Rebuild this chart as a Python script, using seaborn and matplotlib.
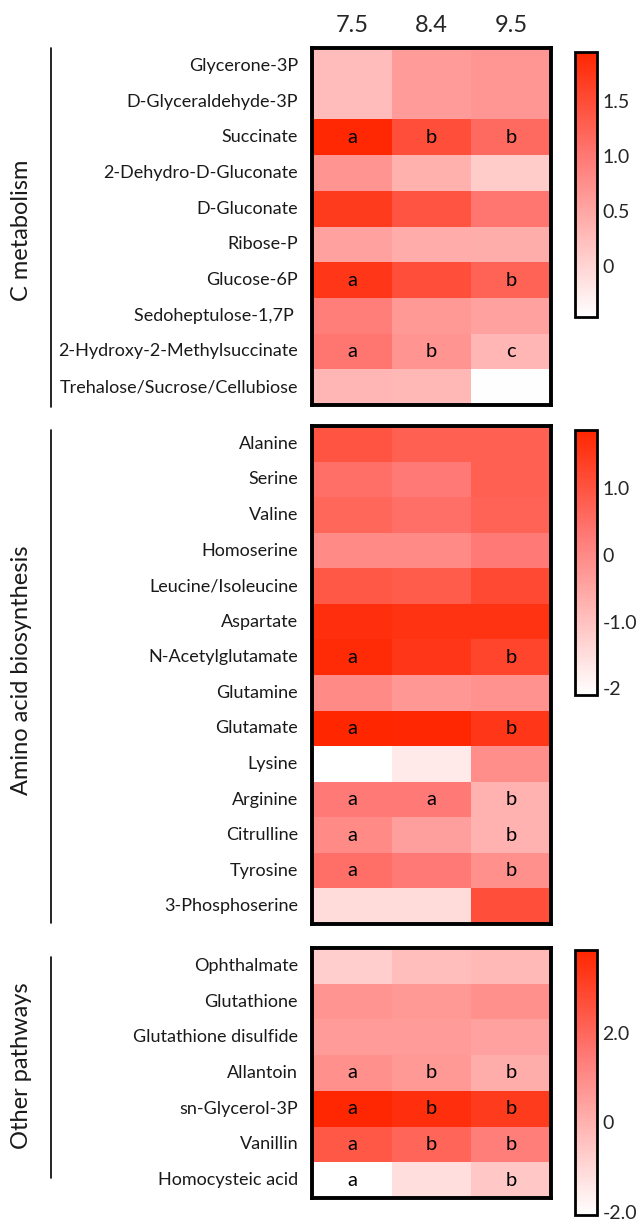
import numpy as np
import pandas as pd
import matplotlib
matplotlib.use("Agg")
import matplotlib.pyplot as plt
from matplotlib.colors import LinearSegmentedColormap
from matplotlib.lines import Line2D
import seaborn as sns

sns.set_theme(style="white")
plt.rcParams["font.family"] = ["Lato", "DejaVu Sans"]

# pH conditions (columns)
ph_levels = ["7.5", "8.4", "9.5"]

# --- C metabolism ---
c_metab_names = [
    "Glycerone-3P", "D-Glyceraldehyde-3P", "Succinate", "2-Dehydro-D-Gluconate",
    "D-Gluconate", "Ribose-P", "Glucose-6P", "Sedoheptulose-1,7P ",
    "2-Hydroxy-2-Methylsuccinate", "Trehalose/Sucrose/Cellubiose",
]
c_metab_values = [
    [0.27, 0.63, 0.68],
    [0.27, 0.63, 0.68],
    [1.93, 1.47, 1.16],
    [0.70, 0.39, 0.10],
    [1.70, 1.42, 1.04],
    [0.55, 0.44, 0.43],
    [1.75, 1.47, 1.25],
    [0.94, 0.65, 0.55],
    [1.04, 0.70, 0.34],
    [0.34, 0.32, -0.45],
]
c_metab_letters = [
    ["", "", ""], ["", "", ""], ["a", "b", "b"], ["", "", ""], ["", "", ""],
    ["", "", ""], ["a", "", "b"], ["", "", ""], ["a", "b", "c"], ["", "", ""],
]

# --- Amino acid biosynthesis ---
amino_names = [
    "Alanine", "Serine", "Valine", "Homoserine", "Leucine/Isoleucine", "Aspartate",
    "N-Acetylglutamate", "Glutamine", "Glutamate", "Lysine", "Arginine",
    "Citrulline", "Tyrosine", "3-Phosphoserine",
]
amino_values = [
    [1.00, 0.76, 0.76],
    [0.48, 0.28, 0.76],
    [0.64, 0.48, 0.72],
    [0.00, 0.00, 0.28],
    [0.92, 0.84, 1.20],
    [1.71, 1.63, 1.63],
    [1.79, 1.55, 1.27],
    [0.00, -0.23, -0.15],
    [1.86, 1.84, 1.55],
    [-2.10, -1.70, -0.07],
    [0.28, 0.28, -0.71],
    [0.00, -0.39, -0.71],
    [0.48, 0.28, -0.10],
    [-1.46, -1.46, 1.08],
]
amino_letters = [
    ["", "", ""], ["", "", ""], ["", "", ""], ["", "", ""], ["", "", ""],
    ["", "", ""], ["a", "", "b"], ["", "", ""], ["a", "", "b"], ["", "", ""],
    ["a", "a", "b"], ["a", "", "b"], ["a", "", "b"], ["", "", ""],
]

# --- Other pathways ---
other_names = [
    "Ophthalmate", "Glutathione", "Glutathione disulfide", "Allantoin",
    "sn-Glycerol-3P", "Vanillin", "Homocysteic acid",
]
other_values = [
    [-0.77, -0.30, -0.18],
    [0.77, 0.65, 0.89],
    [0.59, 0.59, 0.41],
    [0.89, 0.65, 0.12],
    [3.80, 3.60, 3.25],
    [2.42, 2.07, 1.36],
    [-2.07, -1.18, -0.60],
]
other_letters = [
    ["", "", ""], ["", "", ""], ["", "", ""], ["a", "b", "b"],
    ["a", "b", "b"], ["a", "b", "b"], ["a", "", "b"],
]

group_titles = ["C metabolism", "Amino acid biosynthesis", "Other pathways"]

# white -> pink -> saturated red
cmap = LinearSegmentedColormap.from_list(
    "white_red", [(0.0, "#FFFFFF"), (0.6, "#FF7A76"), (1.0, "#FF2600")])

W, H = 639, 1225
fig = plt.figure(figsize=(W / 100, H / 100), dpi=100)


def box(x0, y0, x1, y1):
    """Pixel box (top-left origin) -> figure-fraction rect."""
    return [x0 / W, 1 - y1 / H, (x1 - x0) / W, (y1 - y0) / H]


panels = [
    dict(names=c_metab_names, values=c_metab_values, letters=c_metab_letters,
         hm=(312, 48, 551, 405), cb=(575, 52, 597, 317), vmin=-0.46, vmax=1.95,
         ticks=[0, 0.5, 1.0, 1.5], ticklabels=["0", "0.5", "1.0", "1.5"],
         line=(48, 407), label_y=230),
    dict(names=amino_names, values=amino_values, letters=amino_letters,
         hm=(312, 426, 551, 924), cb=(575, 430, 597, 695), vmin=-2.1, vmax=1.87,
         ticks=[-2, -1, 0, 1], ticklabels=["-2", "-1.0", "0", "1.0"],
         line=(430, 923), label_y=670),
    dict(names=other_names, values=other_values, letters=other_letters,
         hm=(312, 948, 551, 1198), cb=(575, 950, 597, 1215), vmin=-2.07, vmax=3.84,
         ticks=[-2, 0, 2], ticklabels=["-2.0", "0", "2.0"],
         line=(957, 1178), label_y=1066),
]

for i, p in enumerate(panels):
    ax = fig.add_axes(box(*p["hm"]))
    cax = fig.add_axes(box(*p["cb"]))
    df = pd.DataFrame(p["values"], index=p["names"], columns=ph_levels)
    sns.heatmap(df, ax=ax, cmap=cmap, vmin=p["vmin"], vmax=p["vmax"],
                cbar_ax=cax, annot=np.array(p["letters"]), fmt="",
                annot_kws=dict(color="black", fontsize=14.5))
    for s in ax.spines.values():
        s.set_visible(True)
        s.set_linewidth(2.8)
        s.set_color("black")
    ax.tick_params(axis="y", length=0, pad=10, labelsize=13, rotation=0)
    ax.set_ylabel("")
    ax.set_xlabel("")
    if i == 0:
        ax.xaxis.tick_top()
        ax.tick_params(axis="x", length=0, pad=9, labelsize=17)
    else:
        ax.set_xticks([])
    for t in ax.get_yticklabels():
        t.set_color("#1a1a1a")

    cbar = ax.collections[0].colorbar
    cbar.set_ticks(p["ticks"])
    cbar.set_ticklabels(p["ticklabels"])
    cbar.outline.set_linewidth(2)
    cbar.outline.set_edgecolor("black")
    cax.tick_params(direction="in", left=True, right=True, labelright=True,
                    length=3, width=1.5, labelsize=14, pad=4, color="black")

    y0, y1 = p["line"]
    fig.add_artist(Line2D([51 / W, 51 / W], [1 - y0 / H, 1 - y1 / H],
                          color="black", linewidth=1.2))
    fig.text(22 / W, 1 - p["label_y"] / H, group_titles[i], rotation=90,
             ha="center", va="center", fontsize=17, color="#1a1a1a")

fig.savefig("out.png", dpi=100)
